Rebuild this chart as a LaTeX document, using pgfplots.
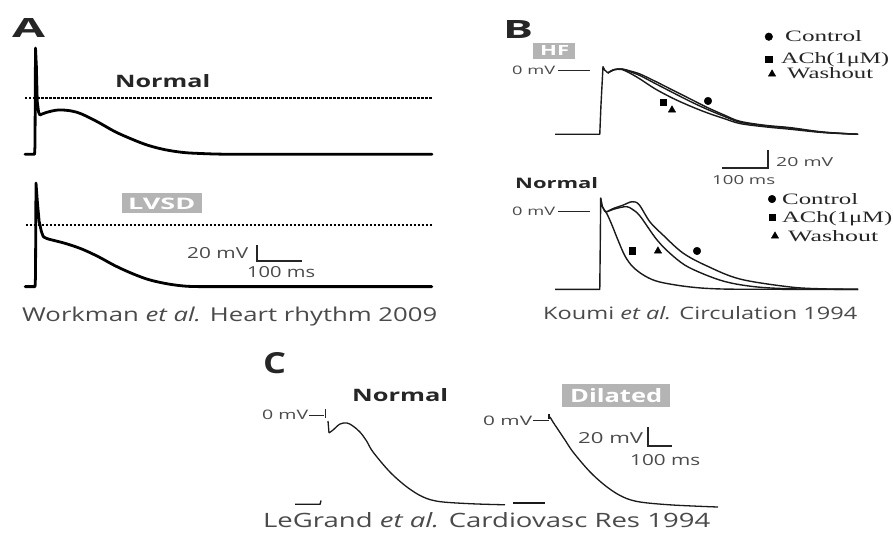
\documentclass[border=0pt]{standalone}
\usepackage{pgfplots}
\pgfplotsset{compat=1.18}
\usepackage{fontspec}
\setmainfont{Open Sans}
\newfontfamily\serif{Liberation Serif}
\usepackage{graphicx}
\definecolor{txt}{HTML}{4A4A4A}
\definecolor{lab}{HTML}{262626}
\definecolor{boxg}{HTML}{B4B4B4}
\definecolor{tr}{HTML}{1A1A1A}
\newcommand\T[6]{\node[anchor=base west,inner sep=0pt,text=#5] at (#1bp,-#2bp) {\resizebox{#3bp}{#4bp}{#6}};}
\pgfplotsset{panel/.style={hide axis, scale only axis, clip=false, anchor=south west},
  trA/.style={line width=2.8bp, color=black, line join=round, line cap=round},
  trB/.style={line width=1.4bp, color=tr, line join=round},
  trC/.style={line width=1.3bp, color=tr, line join=round},
  mk/.style={only marks, mark size=3.8bp, color=black}}
\begin{document}
\begin{tikzpicture}
\fill[white] (0,0) rectangle (893bp,-545bp);
\path[use as bounding box] (0,0) rectangle (893bp,-545bp);
% ---------------- Panel A ----------------
\begin{axis}[panel, at={(21.5bp,-161.7bp)}, width=418.5bp, height=120bp,
  xmin=-30, xmax=900, ymin=-80, ymax=70]
\addplot[black, line width=1.8bp, dash pattern=on 2.4bp off 1.6bp] coordinates {(-22,0)(882,0)};
\addplot[trA] coordinates {(-22,-70.7)(-1,-70.7)(0,-60)(1.1,62)(3,40)(5,-5)(8,-18)(11,-21.6)};
\addplot[trA, smooth, tension=0.55] coordinates {(11,-21.6)(25,-18.5)(51,-15.4)(80,-16.5)(104,-20.5)(140,-30.5)(178,-42.5)(216,-52)(251,-59.5)(289,-65)(327,-68.3)(362,-69.6)(433,-70.7)(600,-70.7)(882,-70.7)};
\end{axis}
\begin{axis}[panel, at={(22bp,-293bp)}, width=418.5bp, height=116bp,
  xmin=-30, xmax=900, ymin=-85, ymax=60]
\addplot[black, line width=1.8bp, dash pattern=on 2.4bp off 1.6bp] coordinates {(-22,0)(882,0)};
\addplot[trA] coordinates {(-23,-77)(-1,-77)(0,-65)(1.1,52.5)(4,30)(8,5)(13,-8)(17.3,-14.6)};
\addplot[trA, smooth, tension=0.55] coordinates {(17.3,-14.6)(28.4,-17.5)(65.6,-22.9)(102.7,-30)(139.6,-39.6)(176.7,-50.9)(213.8,-60.4)(250,-68)(287.8,-73)(324.9,-76)(361,-77)(450,-77)(881,-77)};
\draw[line width=1.3bp, color=lab] (axis cs:492,-25) -- (axis cs:492,-45) -- (axis cs:592,-45);
\end{axis}
\T{12}{37}{33}{19}{lab}{\bfseries A}
\T{115}{87.5}{95}{13}{lab}{\bfseries Normal}
\fill[boxg] (122bp,-193bp) rectangle (202bp,-213bp);
\T{128}{209.5}{67}{11.5}{white}{\bfseries LVSD}
\T{187}{258}{61}{11}{txt}{20 mV}
\T{247}{277}{68}{11}{txt}{100 ms}
\T{22}{321}{415}{14.5}{txt}{Workman \textit{et al.} Heart rhythm 2009}
% ---------------- Panel B ----------------
\begin{axis}[panel, at={(549.4bp,-142bp)}, width=326.6bp, height=112.5bp,
  xmin=-110, xmax=600, ymin=-80, ymax=45]
\draw[line width=0.9bp, color=lab] (axis cs:-91.3,0) -- (axis cs:-21.7,0);
\addplot[trB] coordinates {(-97.8,-71.4)(-0.5,-71.4)(2,-40)(6.5,3.7)(10,0)(17.4,-3.3)};
\addplot[trB, smooth, tension=0.55] coordinates {(17.4,-3.3)(30,0.3)(47.8,1.1)(65,-1)(87,-4.5)(120,-12.5)(158.7,-22.5)(195.7,-32)(232.6,-41.5)(270,-50)(304.3,-57)(360,-61.5)(413,-64)(485,-68.9)(561,-71.4)};
\addplot[trB, smooth, tension=0.55] coordinates {(17.4,-3.3)(30,0.3)(47.8,1.1)(65,-1.8)(87,-6.2)(120,-15)(158.7,-25.2)(195.7,-34.8)(232.6,-43.6)(270,-51.5)(304.3,-58)(360,-62)(413,-64.6)(485,-69.2)(561,-71.4)};
\addplot[trB, smooth, tension=0.55] coordinates {(17.4,-3.3)(30,0.3)(47.8,0.5)(65,-3.5)(87,-10)(120,-21)(158.7,-31.5)(195.7,-40)(232.6,-47.5)(270,-54)(304.3,-59.5)(360,-63.2)(413,-65.8)(485,-69.5)(561,-71.4)};
\addplot[mk, mark=*] coordinates {(234.8,-34.4)(367,37)};
\addplot[mk, mark=square*, mark size=3.3bp] coordinates {(137,-35.6)(367,11.9)};
\addplot[mk, mark=triangle*, mark size=4.2bp] coordinates {(156.5,-44.4)(374,-4.4)};
\end{axis}
\begin{axis}[panel, at={(549.4bp,-296.5bp)}, width=326.6bp, height=112.5bp,
  xmin=-110, xmax=600, ymin=-95, ymax=30]
\draw[line width=0.9bp, color=lab] (axis cs:-91.3,0) -- (axis cs:-21.7,0);
\addplot[trB] coordinates {(-97.8,-87)(-0.5,-87)(0.5,-40)(1.5,14.4)(5,5)(10,0)(15.2,-0.8)};
\addplot[trB, smooth, tension=0.55] coordinates {(15.2,-0.8)(30,3)(50,6.5)(69.6,10.3)(85,7)(108.7,-12.2)(137,-26.7)(180.4,-46.7)(232.6,-61.1)(304.3,-75.6)(413,-84.4)(485,-86.5)(561,-87)};
\addplot[trB, smooth, tension=0.55] coordinates {(15.2,-0.8)(30,2)(45,4)(58.7,4.8)(70,2)(87,-5.6)(124,-32.2)(158.7,-50)(195.7,-63.3)(267.4,-77.8)(341.3,-84.4)(435,-86.7)(561,-87)};
\addplot[trB, smooth, tension=0.55] coordinates {(1.5,14.4)(5,5)(15.2,-3.3)(26,-15.6)(39,-32.2)(54.3,-50)(71.7,-62.2)(97.8,-72.2)(130,-78.9)(195.7,-84.4)(267.4,-86.7)(400,-87)(561,-87)};
\addplot[mk, mark=*] coordinates {(210.9,-44.4)(374,13.3)};
\addplot[mk, mark=square*, mark size=3.3bp] coordinates {(69.6,-44.4)(374,-6.7)};
\addplot[mk, mark=triangle*, mark size=4.2bp] coordinates {(126,-44.4)(380.4,-27.8)};
\draw[line width=1.2bp, color=lab] (axis cs:365.2,67.8) -- (axis cs:365.2,47.8) -- (axis cs:265.2,47.8);
\end{axis}
\T{503}{38}{30}{18}{lab}{\bfseries B}
\fill[boxg] (533bp,-43bp) rectangle (575bp,-59bp);
\T{540}{55.5}{29}{10}{white}{\bfseries HF}
\T{512}{74}{43}{8.5}{txt}{0 mV}
\T{785}{41.5}{77}{11}{lab}{\serif Control}
\T{781}{63.5}{108}{11}{lab}{\serif ACh(1μM)}
\T{787}{78.5}{86}{11}{lab}{\serif Washout}
\T{776}{166}{57}{9}{txt}{20 mV}
\T{712}{184}{63}{9}{txt}{100 ms}
\T{515}{188}{83}{11}{lab}{\bfseries Normal}
\T{512}{215}{43}{8.5}{txt}{0 mV}
\T{782}{204}{76}{11}{lab}{\serif Control}
\T{782}{222}{110}{11}{lab}{\serif ACh(1μM)}
\T{788}{241}{90}{11}{lab}{\serif Washout}
\T{543}{319}{314}{13}{txt}{Koumi \textit{et al.} Circulation 1994}
% ---------------- Panel C ----------------
\begin{axis}[panel, at={(292bp,-510bp)}, width=218.4bp, height=109.25bp,
  xmin=-150, xmax=760, ymin=-100, ymax=15]
\draw[line width=0.9bp, color=lab] (axis cs:-79,0) -- (axis cs:-17,0);
\draw[line width=0.9bp, color=lab] (axis cs:-12.5,6.3) -- (axis cs:-12.5,-3);
\addplot[trC] coordinates {(0,-6.3)(4.2,-18.9)};
\addplot[trC, smooth, tension=0.55] coordinates {(4.2,-18.9)(20.8,-15.8)(50,-9.5)(79,-8.4)(104,-11.6)(133,-17.9)(160,-27)(187.5,-38.9)(258,-60)(329,-75.8)(396,-86.3)(467,-91.2)(604,-93.5)(737.5,-94.5)};
\addplot[trC] coordinates {(-137.5,-94)(-33,-94)(-29,-90)};
\end{axis}
\begin{axis}[panel, at={(511.6bp,-515bp)}, width=211.2bp, height=109.25bp,
  xmin=-160, xmax=720, ymin=-100, ymax=15]
\draw[line width=0.9bp, color=lab] (axis cs:-71,0) -- (axis cs:-6,0);
\addplot[trC] coordinates {(-4,6.3)(-4,1)};
\addplot[trC, smooth, tension=0.55] coordinates {(0,3.2)(12.5,-2.1)(29,-8.4)(62.5,-21)(96,-33.7)(167,-54.7)(237.5,-70.5)(304,-81)(375,-86.3)(512.5,-89.5)(700,-91.6)};
\addplot[trC] coordinates {(-154,-87.5)(-21,-87.5)};
\draw[line width=1.2bp, color=lab] (axis cs:408,-7.4) -- (axis cs:408,-27.4) -- (axis cs:508,-27.4);
\end{axis}
\T{263}{373}{23}{21}{lab}{\bfseries C}
\T{352}{401}{96}{13}{lab}{\bfseries Normal}
\T{262}{419}{46}{9.5}{txt}{0 mV}
\fill[boxg] (562bp,-384bp) rectangle (670bp,-407bp);
\T{570}{402}{92}{14}{white}{\bfseries Dilated}
\T{483}{425}{49}{9.5}{txt}{0 mV}
\T{578}{443}{65}{11}{txt}{20 mV}
\T{630}{465}{70}{11}{txt}{100 ms}
\T{263}{527.5}{447}{15}{txt}{LeGrand \textit{et al.} Cardiovasc Res 1994}
\end{tikzpicture}
\end{document}
